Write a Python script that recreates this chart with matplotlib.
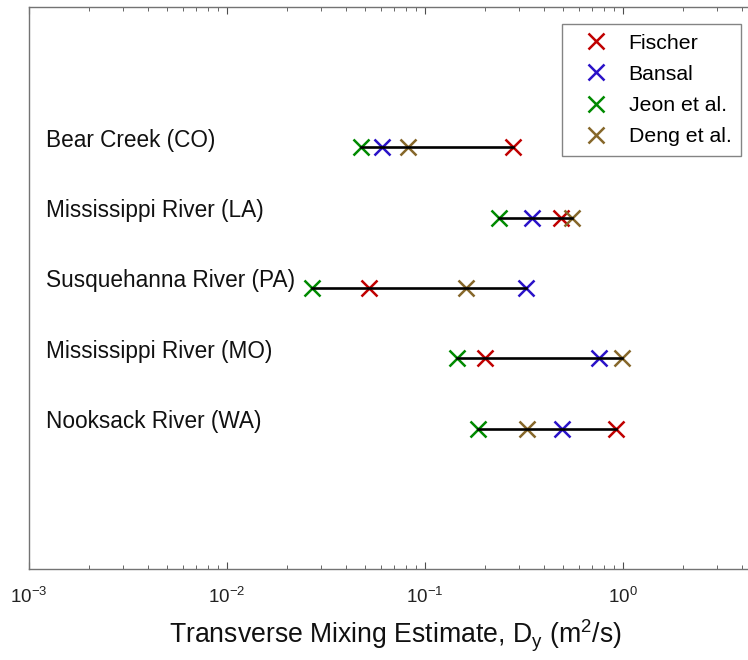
import matplotlib
matplotlib.use("Agg")
import matplotlib.pyplot as plt
from matplotlib.ticker import LogLocator, NullFormatter
from matplotlib.transforms import blended_transform_factory

plt.rcParams['font.family'] = ['Liberation Sans', 'DejaVu Sans']
plt.rcParams['mathtext.fontset'] = 'custom'
plt.rcParams['mathtext.rm'] = 'Liberation Sans'
plt.rcParams['mathtext.it'] = 'Liberation Sans'
plt.rcParams['mathtext.default'] = 'regular'
plt.rcParams['axes.unicode_minus'] = False

rivers = ["Bear Creek (CO)", "Mississippi River (LA)", "Susquehanna River (PA)",
          "Mississippi River (MO)", "Nooksack River (WA)"]
fischer = [0.279, 0.484, 0.0523, 0.201, 0.919]
bansal = [0.0604, 0.348, 0.322, 0.756, 0.490]
jeon = [0.0475, 0.236, 0.0268, 0.1445, 0.186]
deng = [0.0824, 0.554, 0.162, 0.985, 0.326]

methods = ["Fischer", "Bansal", "Jeon et al.", "Deng et al."]
colors = ["#c00000", "#2a12c8", "#008a00", "#86672a"]

fig = plt.figure(figsize=(7.48, 6.6), dpi=100)
ax = fig.add_axes([29 / 748, 91 / 660, 732.4 / 748, 562 / 660])

rows = range(2, 2 + len(rivers))
series = [fischer, bansal, jeon, deng]

# river names sit at a fixed offset from the left spine
lbl_tr = blended_transform_factory(ax.transAxes, ax.transData)
for i, y in enumerate(rows):
    vals = [s[i] for s in series]
    ax.plot([min(vals), max(vals)], [y, y], color="black", lw=1.9, zorder=3)
    ax.text(0.0235, y - 0.1, rivers[i], fontsize=16.3, ha="left", va="center",
            color="#111111", transform=lbl_tr)

for s, name, c in zip(series, methods, colors):
    ax.plot(s, list(rows), "x", color=c, ms=11, mew=1.8, label=name, zorder=2)

ax.set_xscale("log")
ax.set_xlim(1e-3, 5)
ax.set_ylim(8, 0)
ax.set_yticks([])
ax.xaxis.set_major_locator(LogLocator(base=10, numticks=10))
ax.xaxis.set_minor_locator(LogLocator(base=10, subs=range(2, 10), numticks=20))
ax.xaxis.set_minor_formatter(NullFormatter())
ax.tick_params(axis="x", which="both", direction="in", top=True, labelsize=13.5,
               color="0.3", labelcolor="#222222", pad=13)
ax.tick_params(axis="x", which="major", length=5)
ax.tick_params(axis="x", which="minor", length=3)
for sp in ax.spines.values():
    sp.set_color("0.45")
    sp.set_linewidth(1.0)

ax.set_xlabel("Transverse Mixing Estimate, D$_\\mathregular{y}$ (m$^\\mathregular{2}$/s)",
              fontsize=19.2, labelpad=8, color="#111111")

leg = ax.legend(loc="upper left", bbox_to_anchor=(562 / 748, 1 - 24 / 660),
                bbox_transform=fig.transFigure, borderaxespad=0, fontsize=15.3,
                frameon=True, fancybox=False, edgecolor="0.4", handletextpad=0.42,
                borderpad=0.46, labelspacing=0.57, handlelength=2.25)
leg.get_frame().set_linewidth(1.0)

fig.savefig("out.png", dpi=100)
